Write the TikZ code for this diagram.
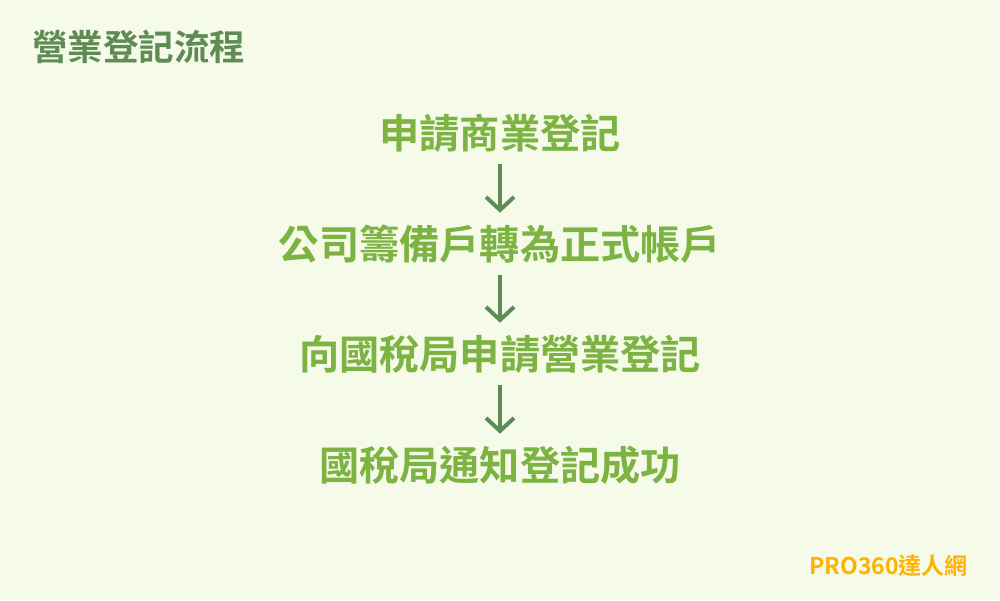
\documentclass[tikz,border=0pt]{standalone}
\usepackage{fontspec}
\newfontfamily\cjk{Noto Sans CJK TC Bold}
\usetikzlibrary{arrows.meta}
\definecolor{bg}{HTML}{F5FBE8}
\definecolor{stepgreen}{HTML}{7CB342}
\definecolor{darkgreen}{HTML}{5E8C54}
\definecolor{logo}{HTML}{FFB300}
\tikzset{
  stepbox/.style={inner sep=0pt, text=stepgreen, font=\cjk\fontsize{40.2}{41}\selectfont, text height=35.4pt, text depth=4.8pt},
  flow/.style={draw=darkgreen, line width=4pt, shorten <=11pt, shorten >=11pt, -{Straight Barb[length=13pt,width=28pt,line width=4pt]}}
}
\begin{document}
\begin{tikzpicture}[x=1pt,y=-1pt]
\fill[bg] (0,0) rectangle (1000,600);
\useasboundingbox (0,0) rectangle (1000,600);
\node[anchor=west, inner sep=0pt, text=darkgreen, font=\cjk\fontsize{35.5}{37}\selectfont] (title) at (32,47) {營業登記流程};
\node[stepbox] (s1) at (500,133) {申請商業登記};
\node[stepbox] (s2) at (500,244) {公司籌備戶轉為正式帳戶};
\node[stepbox] (s3) at (500,354) {向國稅局申請營業登記};
\node[stepbox] (s4) at (500,465) {國稅局通知登記成功};
\draw[flow] (s1.south) -- (s2.north);
\draw[flow] (s2.south) -- (s3.north);
\draw[flow] (s3.south) -- (s4.north);
\node[anchor=east, inner sep=0pt, text=logo, font=\cjk\fontsize{23}{25}\selectfont] (logo) at (968,566) {PRO360達人網};
\end{tikzpicture}
\end{document}
